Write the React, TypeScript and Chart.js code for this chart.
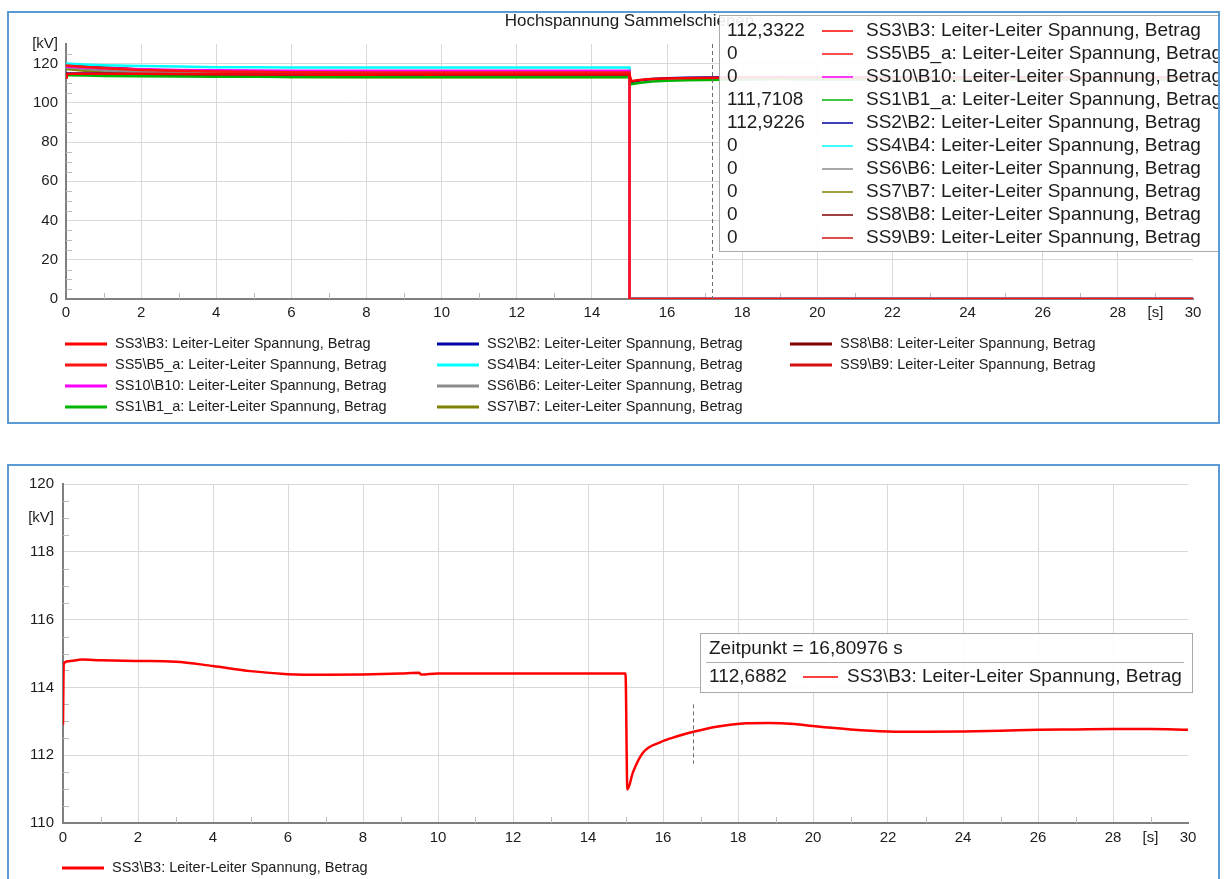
import React, { useEffect, useRef } from 'react';
import { Chart, registerables } from 'chart.js';

Chart.register(...registerables);

const FONT = '"Liberation Sans", Arial, Helvetica, sans-serif';

// ---------- names / colours ----------
const SERIES_NAMES = [
  'SS3\\B3: Leiter-Leiter Spannung, Betrag',
  'SS5\\B5_a: Leiter-Leiter Spannung, Betrag',
  'SS10\\B10: Leiter-Leiter Spannung, Betrag',
  'SS1\\B1_a: Leiter-Leiter Spannung, Betrag',
  'SS2\\B2: Leiter-Leiter Spannung, Betrag',
  'SS4\\B4: Leiter-Leiter Spannung, Betrag',
  'SS6\\B6: Leiter-Leiter Spannung, Betrag',
  'SS7\\B7: Leiter-Leiter Spannung, Betrag',
  'SS8\\B8: Leiter-Leiter Spannung, Betrag',
  'SS9\\B9: Leiter-Leiter Spannung, Betrag',
];
const SERIES_COLORS = [
  '#ff0000', '#ff1414', '#ff00ff', '#00b400', '#0000a8',
  '#00ffff', '#8c8c8c', '#808000', '#800000', '#d41010',
];

const TOP_TITLE = 'Hochspannung Sammelschienen';
const TOP_CURSOR_TIME = 17.19;
const TOP_CURSOR_VALUES = ['112,3322', '0', '0', '111,7108', '112,9226', '0', '0', '0', '0', '0'];

const BOTTOM_CURSOR_TIME = 16.80976;
const BOTTOM_CURSOR_HEADER = 'Zeitpunkt = 16,80976 s';
const BOTTOM_CURSOR_VALUE = '112,6882';

// ---------- SS3 (both charts) ----------
const TIME_SS3 = [0, 0.02, 0.2, 0.5, 1, 2, 3, 4, 5, 6, 7, 8, 9, 9.5, 9.55, 10, 12, 14, 15, 15.05, 15.2, 15.47, 15.92, 16.36, 16.81, 17.43, 18.23, 18.8, 19.5, 20, 21, 22, 23, 24, 25, 26, 27, 28, 29, 30];
const SS3_VALUES = [112.9, 114.72, 114.78, 114.82, 114.8, 114.78, 114.76, 114.63, 114.48, 114.39, 114.37, 114.38, 114.41, 114.43, 114.38, 114.41, 114.41, 114.41, 114.41, 110.99, 111.5, 112.08, 112.38, 112.55, 112.69, 112.84, 112.94, 112.95, 112.92, 112.86, 112.76, 112.7, 112.69, 112.7, 112.72, 112.75, 112.76, 112.77, 112.77, 112.75];

// ---------- top chart: before the fault ----------
const TIME_PRE = [0, 0.5, 1, 2, 3, 4, 5, 6, 8, 10, 12, 15];
const SS5_PRE = [119.0, 118.3, 117.6, 116.8, 116.3, 116.0, 115.8, 115.6, 115.5, 115.5, 115.5, 115.5];
const SS10_PRE = [118.5, 118.0, 117.6, 117.1, 116.8, 116.6, 116.5, 116.4, 116.3, 116.3, 116.3, 116.3];
const SS1_PRE = [114.1, 113.9, 113.7, 113.5, 113.4, 113.3, 113.25, 113.2, 113.2, 113.2, 113.2, 113.2];
const SS2_PRE = [115.0, 114.9, 114.8, 114.6, 114.5, 114.4, 114.35, 114.3, 114.3, 114.3, 114.3, 114.3];
const SS4_PRE = [120.1, 119.6, 119.2, 118.8, 118.5, 118.2, 118.1, 118.0, 118.0, 118.0, 118.0, 118.0];
const SS6_PRE = [118.0, 117.2, 116.5, 115.7, 115.2, 114.9, 114.7, 114.6, 114.6, 114.6, 114.6, 114.6];
const SS7_PRE = [117.2, 116.4, 115.6, 114.7, 114.1, 113.7, 113.4, 113.2, 113.1, 113.1, 113.1, 113.1];
const SS8_PRE = [119.8, 118.9, 118.0, 116.9, 116.2, 115.7, 115.4, 115.1, 115.0, 115.0, 115.0, 115.0];
const SS9_PRE = [119.5, 118.7, 118.0, 117.0, 116.4, 116.0, 115.7, 115.4, 115.3, 115.3, 115.3, 115.3];

// ---------- top chart: after the fault ----------
const TIME_POST = [15, 15.02, 15.3, 15.6, 16, 16.5, 17, 18, 19, 20, 22, 24, 26, 28, 30];
const SS2_POST = [114.3, 110.5, 111.5, 112.2, 112.6, 112.8, 112.9, 113.1, 113.15, 113.1, 113.0, 113.0, 113.05, 113.05, 113.05];
const SS1_POST = [113.2, 109.5, 110.3, 110.9, 111.3, 111.5, 111.65, 111.9, 112.0, 111.95, 111.85, 111.8, 111.85, 111.85, 111.85];
const TIME_OFF = [15, 30];
const OFF_VALUES = [0, 0];

type Pt = { x: number; y: number };
const zip = (t: number[], v: number[]): Pt[] => t.map((x, i) => ({ x, y: v[i] }));

const TOP_SERIES: Pt[][] = [
  zip(TIME_SS3, SS3_VALUES),
  [...zip(TIME_PRE, SS5_PRE), ...zip(TIME_OFF, OFF_VALUES)],
  [...zip(TIME_PRE, SS10_PRE), ...zip(TIME_OFF, OFF_VALUES)],
  [...zip(TIME_PRE, SS1_PRE), ...zip(TIME_POST, SS1_POST).slice(1)],
  [...zip(TIME_PRE, SS2_PRE), ...zip(TIME_POST, SS2_POST).slice(1)],
  [...zip(TIME_PRE, SS4_PRE), ...zip(TIME_OFF, OFF_VALUES)],
  [...zip(TIME_PRE, SS6_PRE), ...zip(TIME_OFF, OFF_VALUES)],
  [...zip(TIME_PRE, SS7_PRE), ...zip(TIME_OFF, OFF_VALUES)],
  [...zip(TIME_PRE, SS8_PRE), ...zip(TIME_OFF, OFF_VALUES)],
  [...zip(TIME_PRE, SS9_PRE), ...zip(TIME_OFF, OFF_VALUES)],
];

// ---------- tick helpers ----------
const X_MINOR: number[] = [];
for (let v = 1; v < 30; v += 2) X_MINOR.push(v);
const Y_MINOR_TOP: number[] = [];
for (let v = 5; v < 130; v += 5) if (v % 20 !== 0) Y_MINOR_TOP.push(v);
const Y_MINOR_BOTTOM: number[] = [];
for (let v = 110.5; v < 120; v += 0.5) if (v % 2 !== 0) Y_MINOR_BOTTOM.push(v);

const GRID = '#d9d9d9';
const TEXT = '#1c1c1c';

function drawMinorTicks(chart: any, xs: number[], ys: number[]) {
  const { ctx, chartArea: ca, scales } = chart;
  ctx.save();
  ctx.strokeStyle = '#bcbcbc';
  ctx.lineWidth = 1;
  ctx.beginPath();
  for (const v of xs) {
    const px = Math.round(scales.x.getPixelForValue(v)) + 0.5;
    ctx.moveTo(px, ca.bottom);
    ctx.lineTo(px, ca.bottom - 6);
  }
  for (const v of ys) {
    const py = Math.round(scales.y.getPixelForValue(v)) + 0.5;
    ctx.moveTo(ca.left, py);
    ctx.lineTo(ca.left + 6, py);
  }
  ctx.stroke();
  ctx.restore();
}

function text(ctx: any, s: string, x: number, y: number, size: number, align = 'left') {
  ctx.font = `${size}px ${FONT}`;
  ctx.fillStyle = TEXT;
  ctx.textAlign = align;
  ctx.textBaseline = 'middle';
  ctx.fillText(s, x, y);
}

function swatch(ctx: any, color: string, x1: number, x2: number, y: number, w = 2.5) {
  ctx.strokeStyle = color;
  ctx.lineWidth = w;
  ctx.beginPath();
  ctx.moveTo(x1, y);
  ctx.lineTo(x2, y);
  ctx.stroke();
}

function dashedCursor(ctx: any, x: number, y1: number, y2: number) {
  ctx.save();
  ctx.strokeStyle = '#6e6e6e';
  ctx.lineWidth = 1;
  ctx.setLineDash([4, 3]);
  ctx.beginPath();
  const px = Math.round(x) + 0.5;
  ctx.moveTo(px, y1);
  ctx.lineTo(px, y2);
  ctx.stroke();
  ctx.restore();
}

function axisOptions(
  min: number, max: number, step: number,
  label: (v: number) => string, grid: (v: number) => boolean,
  fit: (s: any) => void, pad: number,
) {
  return {
    type: 'linear',
    min, max,
    afterFit: fit,
    border: { color: '#7f7f7f', width: 2 },
    grid: {
      drawTicks: false,
      lineWidth: 1,
      color: (c: any) => (grid(c.tick.value) ? GRID : 'rgba(0,0,0,0)'),
    },
    ticks: {
      stepSize: step,
      autoSkip: false,
      maxRotation: 0,
      padding: pad,
      color: TEXT,
      font: { family: FONT, size: 15 },
      callback: (v: any) => label(Number(v)),
    },
  };
}

function buildTop(canvas: HTMLCanvasElement) {
  const decor = {
    id: 'topDecor',
    beforeDatasetsDraw(chart: any) {
      drawMinorTicks(chart, X_MINOR, Y_MINOR_TOP);
    },
    afterDraw(chart: any) {
      const { ctx, chartArea: ca, scales } = chart;
      ctx.save();
      dashedCursor(ctx, scales.x.getPixelForValue(TOP_CURSOR_TIME), ca.top, ca.bottom);
      // title
      text(ctx, TOP_TITLE, (ca.left + ca.right) / 2, 8, 17, 'center');
      // cursor box
      ctx.fillStyle = 'rgba(255,255,255,0.9)';
      ctx.fillRect(710, 2, 520, 236);
      ctx.strokeStyle = '#a9a9a9';
      ctx.lineWidth = 1;
      ctx.strokeRect(710.5, 2.5, 520, 236);
      for (let i = 0; i < SERIES_NAMES.length; i++) {
        const y = 18 + 23 * i;
        text(ctx, TOP_CURSOR_VALUES[i], 718, y, 19);
        swatch(ctx, SERIES_COLORS[i], 813, 844, y, 1.5);
        text(ctx, SERIES_NAMES[i], 857, y, 19);
      }
      // legend
      const cols = [56, 428, 781];
      for (let i = 0; i < SERIES_NAMES.length; i++) {
        const col = Math.floor(i / 4);
        const row = i % 4;
        const x = cols[col];
        const y = 331 + 21 * row;
        swatch(ctx, SERIES_COLORS[i], x, x + 42, y, 3);
        text(ctx, SERIES_NAMES[i], x + 50, y, 14.5);
      }
      ctx.restore();
    },
  };

  return new Chart(canvas, {
    type: 'line',
    data: {
      datasets: TOP_SERIES.map((pts, i) => ({
        label: SERIES_NAMES[i],
        data: pts,
        borderColor: SERIES_COLORS[i],
        backgroundColor: SERIES_COLORS[i],
        borderWidth: 2.5,
        pointRadius: 0,
        tension: 0,
        fill: false,
      })),
    },
    options: {
      responsive: false,
      animation: false,
      events: [],
      layout: { padding: { left: 0, top: 31, right: 25, bottom: 93 } },
      plugins: { legend: { display: false }, tooltip: { enabled: false }, title: { display: false } },
      scales: {
        x: axisOptions(0, 30, 1,
          (v) => (v === 29 ? '[s]' : v % 2 === 0 ? String(v) : ''),
          (v) => v % 2 === 0 && v > 0 && v < 30,
          (s: any) => { s.height = 30; }, 5),
        y: axisOptions(0, 130, 10,
          (v) => (v === 130 ? '[kV]' : v % 20 === 0 ? String(v) : ''),
          (v) => v % 20 === 0 && v > 0 && v < 130,
          (s: any) => { s.width = 57; }, 8),
      },
    } as any,
    plugins: [decor],
  });
}

function buildBottom(canvas: HTMLCanvasElement) {
  const decor = {
    id: 'bottomDecor',
    beforeDatasetsDraw(chart: any) {
      drawMinorTicks(chart, X_MINOR, Y_MINOR_BOTTOM);
    },
    afterDraw(chart: any) {
      const { ctx, scales } = chart;
      ctx.save();
      dashedCursor(ctx, scales.x.getPixelForValue(BOTTOM_CURSOR_TIME),
        scales.y.getPixelForValue(113.5), scales.y.getPixelForValue(111.75));
      // cursor box
      ctx.fillStyle = 'rgba(255,255,255,0.9)';
      ctx.fillRect(691, 167, 492, 59);
      ctx.strokeStyle = '#a9a9a9';
      ctx.lineWidth = 1;
      ctx.strokeRect(691.5, 167.5, 492, 59);
      text(ctx, BOTTOM_CURSOR_HEADER, 700, 183, 19);
      ctx.strokeStyle = '#b0b0b0';
      ctx.beginPath();
      ctx.moveTo(697, 196.5);
      ctx.lineTo(1175, 196.5);
      ctx.stroke();
      text(ctx, BOTTOM_CURSOR_VALUE, 700, 211, 19);
      swatch(ctx, SERIES_COLORS[0], 794, 829, 211, 1.5);
      text(ctx, SERIES_NAMES[0], 838, 211, 19);
      // legend
      swatch(ctx, SERIES_COLORS[0], 53, 95, 402, 3);
      text(ctx, SERIES_NAMES[0], 103, 402, 14.5);
      ctx.restore();
    },
  };

  return new Chart(canvas, {
    type: 'line',
    data: {
      datasets: [{
        label: SERIES_NAMES[0],
        data: zip(TIME_SS3, SS3_VALUES),
        borderColor: SERIES_COLORS[0],
        backgroundColor: SERIES_COLORS[0],
        borderWidth: 2.5,
        pointRadius: 0,
        cubicInterpolationMode: 'monotone',
        fill: false,
      }],
    },
    options: {
      responsive: false,
      animation: false,
      events: [],
      layout: { padding: { left: 0, top: 15, right: 30, bottom: 26 } },
      plugins: { legend: { display: false }, tooltip: { enabled: false }, title: { display: false } },
      scales: {
        x: axisOptions(0, 30, 1,
          (v) => (v === 29 ? '[s]' : v % 2 === 0 ? String(v) : ''),
          (v) => v % 2 === 0 && v > 0 && v < 30,
          (s: any) => { s.height = 30; }, 6),
        y: axisOptions(110, 120, 1,
          (v) => (v === 119 ? '[kV]' : v % 2 === 0 ? String(v) : ''),
          (v) => v % 2 === 0 && v > 110,
          (s: any) => { s.width = 54; }, 9),
      },
    } as any,
    plugins: [decor],
  });
}

function ChartCanvas(props: { left: number; top: number; width: number; height: number; build: (c: HTMLCanvasElement) => Chart }) {
  const ref = useRef<HTMLCanvasElement | null>(null);
  useEffect(() => {
    if (!ref.current) return;
    const chart = props.build(ref.current);
    return () => chart.destroy();
  }, []);
  return (
    <canvas
      ref={ref}
      width={props.width}
      height={props.height}
      style={{ position: 'absolute', left: props.left, top: props.top, width: props.width, height: props.height, display: 'block' }}
    />
  );
}

export default function App() {
  const border = '2px solid #5b9bd5';
  return (
    <div style={{ position: 'absolute', left: 0, top: 0, width: 1227, height: 879, overflow: 'hidden', background: '#fff' }}>
      <div style={{ position: 'absolute', left: 7, top: 11, width: 1213, height: 413, border, boxSizing: 'border-box' }} />
      <div style={{ position: 'absolute', left: 7, top: 464, width: 1213, height: 415, borderTop: border, borderLeft: border, borderRight: border, boxSizing: 'border-box' }} />
      <ChartCanvas left={9} top={13} width={1209} height={409} build={buildTop} />
      <ChartCanvas left={9} top={466} width={1209} height={413} build={buildBottom} />
    </div>
  );
}
